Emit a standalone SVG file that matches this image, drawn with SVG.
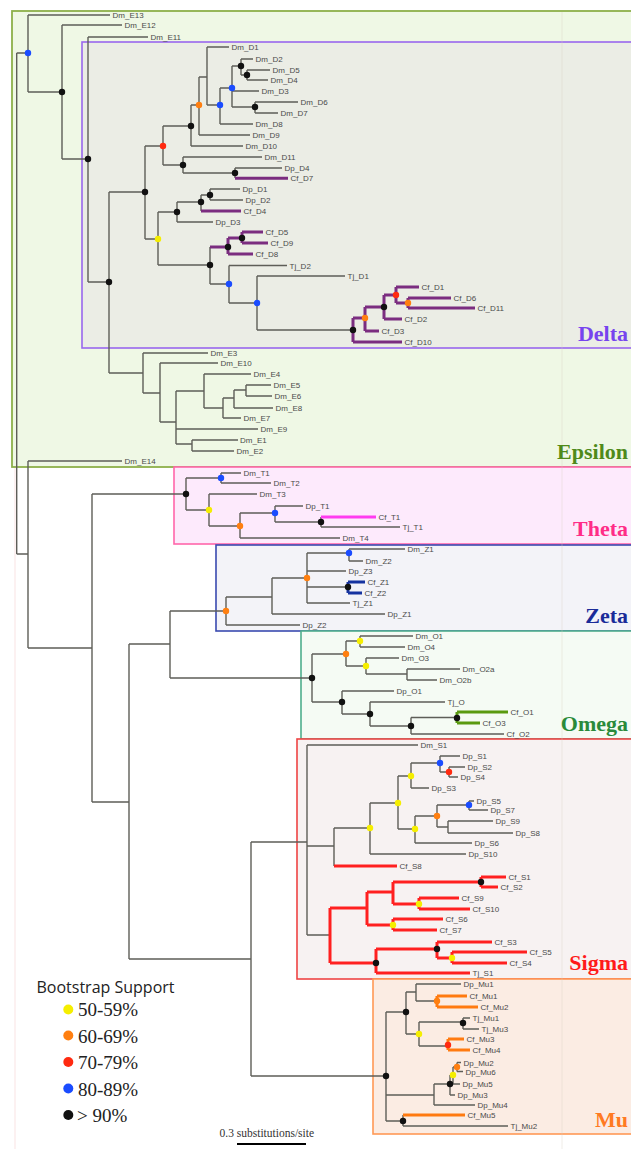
<svg xmlns="http://www.w3.org/2000/svg" width="631" height="1149" viewBox="0 0 631 1149">
<style>
.br{fill:none;stroke:#5e5e58;stroke-width:1.4}
.th{fill:none;stroke-width:3}
.pu{stroke:#7b2d80}.mg{stroke:#ff3cf0}.zb{stroke:#1633a0}.og{stroke:#5a9a10}.rd{stroke:#ff2020}.or{stroke:#ff7a10}
.lf{font-family:"Liberation Sans",Arial,sans-serif;font-size:8px;fill:#4a4a4a}
.cl{font-family:"Liberation Serif","Times New Roman",serif;font-size:22px;font-weight:bold;text-anchor:end}
.ly{fill:#f5ee00}.lo{fill:#ff7f10}.lr{fill:#ff2a10}.lb{fill:#1a4cff}.lk{fill:#111}
#bootstrap-nodes circle{r:3.2px}
.lg{font-family:"Liberation Serif","Times New Roman",serif;font-size:19px;fill:#222}
</style>
<rect width="631" height="1149" fill="#fff"/>
<g id="clade-boxes">
<g id="box-epsilon"><rect x="12" y="11" width="630" height="456" fill="#eff8e5" stroke="#8db04a" stroke-width="1.8"/></g>
<g id="box-delta"><rect x="82" y="42" width="560" height="306" fill="#ebede5" stroke="#9966ee" stroke-width="1.6"/></g>
<g id="box-theta"><rect x="174" y="467" width="470" height="77" fill="#fdeafc" stroke="#ff66aa" stroke-width="1.6"/></g>
<g id="box-zeta"><rect x="216" y="545" width="430" height="86" fill="#f3f3f8" stroke="#3a4ab0" stroke-width="1.6"/></g>
<g id="box-omega"><rect x="301" y="631" width="345" height="108" fill="#f5fbf4" stroke="#4fae8c" stroke-width="1.6"/></g>
<g id="box-sigma"><rect x="297" y="739" width="350" height="240" fill="#f7f2f2" stroke="#ee4444" stroke-width="1.6"/></g>
<g id="box-mu"><rect x="373" y="979" width="275" height="155" fill="#fbece3" stroke="#ff9955" stroke-width="1.6"/></g>
<line x1="562" y1="12" x2="562" y2="1149" stroke="#d8cfc0" stroke-width="1" opacity="0.35"/>
<line x1="15" y1="468" x2="15" y2="1149" stroke="#f6caca" stroke-width="1" opacity="0.5"/>
</g>
<g id="clade-labels">
<text class="cl" x="628" y="459" fill="#4f8a1a">Epsilon</text>
<text class="cl" x="628" y="341" fill="#7744ee">Delta</text>
<text class="cl" x="628" y="536" fill="#ff2d87">Theta</text>
<text class="cl" x="628" y="623" fill="#1a2b99">Zeta</text>
<text class="cl" x="628" y="731" fill="#2a8a3a">Omega</text>
<text class="cl" x="628" y="970" fill="#ff1a1a">Sigma</text>
<text class="cl" x="628" y="1127" fill="#ff7a22">Mu</text>
</g>
<g id="connectors">
<path class="br" d="M16.7 53V554M16.7 53H28M16.7 554H28
M28 15V92M28 15H110M28 92H62
M62 25V159M62 25H122M62 159H88
M88 37V282M88 37H148M88 282H109
M109 192V373M109 192H145M109 373H143
M145 146V239M145 146H163M145 239H158
M163 126V165M163 126H191M163 165H183
M191 105V146M191 105H199M191 146H243
M199 77V135M199 77H207M199 135H250
M207 47V105M207 47H229M207 105H220
M220 88V124M220 88H232M220 124H253
M232 66V107M232 66H241M232 91H259M232 107H255
M241 59V75M241 59H253M241 75H247
M247 70V80M247 70H270M247 80H268
M255 102V113M255 102H298M255 113H278
M183 157V173M183 157H262M183 173H235
M235 168V178M235 168H282
M158 212V265M158 212H177M158 265H210
M177 202V222M177 202H201M177 222H213
M201 195V211M201 195H210
M210 189V200M210 189H240M210 200H243
M210 247V284M210 284H229
M229 265.5V303M229 265.5H287M229 303H257
M257 276V330M257 276H345M257 330H353
M143 353V393M143 353H208M143 393H160
M160 363V422M160 363H218M160 422H176
M176 391V444M176 391H204M176 429H258M176 444H192
M204 374V408M204 374H251M204 408H223
M223 398V418M223 398H234M223 418H241
M234 390V408M234 390H246M234 408H273
M246 385V396M246 385H271M246 396H272
M192 440V451M192 440H238M192 451H234
M28 461V648M28 461H122M28 648H92
M92 494V802M92 494H186M92 802H129
M186 478V510M186 478H221M186 510H209
M221 473V483M221 473H241M221 483H271
M209 494V526M209 494H257M209 526H240
M240 513V538M240 513H275M240 538H340
M275 506V522M275 506H303M275 522H321
M321 517V527M321 527H400
M129 644V959M129 644H170M129 959H251
M170 611V678M170 611H226M170 678H312
M226 597V625M226 597H272M226 625H300
M272 578V614M272 578H307M272 614H385
M307 553V603M307 553H349M307 571H346M307 587H348M307 603H350
M349 549V561M349 549H405M349 561H363
M312 654V702M312 654H346M312 702H342
M346 641V666M346 641H360M346 666H366
M360 636V647M360 636H413M360 647H405
M366 658V674M366 658H399M366 674H407
M407 669V680M407 669H460M407 680H437
M342 691V714M342 691H394M342 714H370
M370 702V726M370 702H445M370 726H411
M411 717.5V734M411 717.5H457M411 734H504
M251 842V1076M251 842H307M251 1076H386
M307 745V935M307 745H418M307 846H334M307 935H330
M334 828V866M334 828H370
M370 803V854M370 803H398M370 854H466
M398 776V829M398 776H411M398 829H415
M411 763V788M411 763H440M411 788H429
M440 756V772M440 756H460M440 772H449
M449 767V777M449 767H465M449 777H458
M415 816V843M415 816H437M415 843H472
M437 805V827M437 805H469M437 827H448
M469 801V810M469 801H474M469 810H488
M448 821V833M448 821H493M448 833H513
M386 1012V1121M386 1012H406M386 1095H434M386 1121H403
M406 992V1034M406 992H416M406 1034H419
M416 984V1001M416 984H461M416 1001H437
M419 1022V1046M419 1022H463M419 1046H448
M463 1018V1029M463 1018H470M463 1029H479
M434 1084V1105M434 1084H450M434 1105H475
M450 1075V1095M450 1075H453M450 1095H455
M453 1067V1084M453 1067H457M453 1084H460
M457 1062.5V1071.5M457 1062.5H461M457 1071.5H463
M403 1115V1126M403 1126H508"/>
<path class="th pu" d="M235 178.3H288M201 211H241M210 247H228M228 238V254M228 238H242M228 254H253M242 232V243M242 232H263M242 243H268
M353 318V342M353 318H365M353 342H402M365 307V331M365 307H384M365 331H379M384 295V319M384 295H396M384 319H402M396 287V303M396 287H419M396 303H408M408 298V308M408 298H451M408 308H475"/>
<path class="th mg" d="M321 517H376"/>
<path class="th zb" d="M348 582V593M348 582H365M348 593H362"/>
<path class="th og" d="M457 712V723M457 712H508M457 723H480"/>
<path class="th rd" d="M334 866H397
M330 908V963M330 908H367M330 963H376M367 892V925M367 892H393M367 925H393M393 882V904M393 882H481M393 904H419M481 877V887M481 877H506M481 887H498M419 898V909M419 898H459M419 909H470M393 919V930M393 919H443M393 930H437M376 949V973M376 949H437M376 973H470M437 942V958M437 942H492M437 958H452M452 952V963M452 952H527M452 963H507"/>
<path class="th or" d="M437 996V1007M437 996H467M437 1007H478M448 1039V1050M448 1039H464M448 1050H470M403 1115H465"/>
</g>
<g id="bootstrap-nodes">
<circle class="lb" cx="28" cy="53" r="3.2"/><circle class="lk" cx="62" cy="92" r="3.2"/><circle class="lk" cx="88" cy="159" r="3.2"/><circle class="lk" cx="109" cy="282" r="3.2"/>
<circle class="lk" cx="145" cy="192" r="3.2"/><circle class="lr" cx="163" cy="146" r="3.2"/><circle class="lk" cx="191" cy="126" r="3.2"/><circle class="lo" cx="199" cy="105" r="3.2"/>
<circle class="lb" cx="220" cy="105" r="3.2"/><circle class="lb" cx="232" cy="88" r="3.2"/><circle class="lk" cx="241" cy="66" r="3.2"/><circle class="lk" cx="247" cy="75" r="3.2"/>
<circle class="lk" cx="255" cy="107" r="3.2"/><circle class="lk" cx="183" cy="165" r="3.2"/><circle class="lk" cx="235" cy="173" r="3.2"/><circle class="ly" cx="158" cy="239" r="3.2"/>
<circle class="lk" cx="177" cy="212" r="3.2"/><circle class="lk" cx="201" cy="202" r="3.2"/><circle class="lk" cx="210" cy="195" r="3.2"/><circle class="lk" cx="210" cy="265" r="3.2"/>
<circle class="lk" cx="228" cy="247" r="3.2"/><circle class="lk" cx="242" cy="238" r="3.2"/><circle class="lb" cx="229" cy="284" r="3.2"/><circle class="lb" cx="257" cy="303" r="3.2"/>
<circle class="lk" cx="353" cy="330" r="3.2"/><circle class="lo" cx="365" cy="318" r="3.2"/><circle class="lk" cx="384" cy="307" r="3.2"/><circle class="lr" cx="396" cy="295" r="3.2"/><circle class="lo" cx="408" cy="303" r="3.2"/>
<circle class="lk" cx="186" cy="494" r="3.2"/><circle class="lb" cx="221" cy="478" r="3.2"/><circle class="ly" cx="209" cy="510" r="3.2"/><circle class="lo" cx="240" cy="526" r="3.2"/><circle class="lb" cx="275" cy="513" r="3.2"/><circle class="lk" cx="321" cy="522" r="3.2"/>
<circle class="lo" cx="226" cy="611" r="3.2"/><circle class="lo" cx="307" cy="578" r="3.2"/><circle class="lb" cx="349" cy="553" r="3.2"/><circle class="lk" cx="348" cy="587" r="3.2"/>
<circle class="lk" cx="312" cy="678" r="3.2"/><circle class="lo" cx="346" cy="654" r="3.2"/><circle class="ly" cx="360" cy="641" r="3.2"/><circle class="ly" cx="366" cy="666" r="3.2"/><circle class="lk" cx="342" cy="702" r="3.2"/><circle class="lk" cx="370" cy="714" r="3.2"/><circle class="lk" cx="411" cy="726" r="3.2"/><circle class="lk" cx="457" cy="718" r="3.2"/>
<circle class="ly" cx="370" cy="828" r="3.2"/><circle class="ly" cx="398" cy="803" r="3.2"/><circle class="ly" cx="411" cy="776" r="3.2"/><circle class="lb" cx="440" cy="763" r="3.2"/><circle class="lr" cx="449" cy="772" r="3.2"/><circle class="ly" cx="415" cy="829" r="3.2"/><circle class="lo" cx="437" cy="816" r="3.2"/><circle class="lb" cx="469" cy="805" r="3.2"/>
<circle class="lk" cx="481" cy="882" r="3.2"/><circle class="ly" cx="419" cy="904" r="3.2"/><circle class="ly" cx="393" cy="925" r="3.2"/><circle class="lk" cx="376" cy="963" r="3.2"/><circle class="lk" cx="437" cy="949" r="3.2"/><circle class="ly" cx="452" cy="958" r="3.2"/>
<circle class="lk" cx="386" cy="1076" r="3.2"/><circle class="lk" cx="406" cy="1012" r="3.2"/><circle class="lo" cx="437" cy="1001" r="3.2"/><circle class="ly" cx="419" cy="1034" r="3.2"/><circle class="lk" cx="463" cy="1023" r="3.2"/><circle class="lr" cx="448" cy="1045" r="3.2"/>
<circle class="lk" cx="450" cy="1084" r="3.2"/><circle class="ly" cx="453" cy="1075" r="3.2"/><circle class="lo" cx="457" cy="1067" r="3.2"/><circle class="lk" cx="403" cy="1121" r="3.2"/>
</g>
<g id="leaf-labels" class="lf">
<text x="112.5" y="18">Dm_E13</text><text x="124.5" y="28">Dm_E12</text><text x="150.5" y="40">Dm_E11</text>
<text x="231.5" y="50">Dm_D1</text><text x="255.5" y="62">Dm_D2</text><text x="272.5" y="73">Dm_D5</text><text x="270.5" y="83">Dm_D4</text><text x="261.5" y="94">Dm_D3</text>
<text x="300.5" y="105">Dm_D6</text><text x="280.5" y="116">Dm_D7</text><text x="255.5" y="127">Dm_D8</text><text x="252.5" y="138">Dm_D9</text><text x="245.5" y="149">Dm_D10</text>
<text x="264.5" y="160">Dm_D11</text><text x="284.5" y="171">Dp_D4</text><text x="290.5" y="181.3">Cf_D7</text>
<text x="242.5" y="192">Dp_D1</text><text x="245.5" y="203">Dp_D2</text><text x="243.5" y="214">Cf_D4</text><text x="215.5" y="225">Dp_D3</text>
<text x="265.5" y="235">Cf_D5</text><text x="270.5" y="246">Cf_D9</text><text x="255.5" y="257">Cf_D8</text><text x="289.5" y="268.5">Tj_D2</text><text x="347.5" y="279">Tj_D1</text>
<text x="421.5" y="290">Cf_D1</text><text x="453.5" y="301">Cf_D6</text><text x="477.5" y="311">Cf_D11</text><text x="404.5" y="322">Cf_D2</text><text x="381.5" y="334">Cf_D3</text><text x="404.5" y="345">Cf_D10</text>
<text x="210.5" y="356">Dm_E3</text><text x="220.5" y="366">Dm_E10</text><text x="253.5" y="377">Dm_E4</text><text x="273.5" y="388">Dm_E5</text><text x="274.5" y="399">Dm_E6</text>
<text x="275.5" y="411">Dm_E8</text><text x="243.5" y="421">Dm_E7</text><text x="260.5" y="432">Dm_E9</text><text x="240" y="443">Dm_E1</text><text x="236.5" y="454">Dm_E2</text>
<text x="124.5" y="464">Dm_E14</text>
<text x="243.5" y="476">Dm_T1</text><text x="273.5" y="486">Dm_T2</text><text x="259.5" y="497">Dm_T3</text><text x="305.5" y="509">Dp_T1</text><text x="378.5" y="520">Cf_T1</text><text x="402.5" y="530">Tj_T1</text><text x="342.5" y="541">Dm_T4</text>
<text x="407.5" y="552">Dm_Z1</text><text x="365.5" y="564">Dm_Z2</text><text x="348.5" y="574">Dp_Z3</text><text x="367.5" y="585">Cf_Z1</text><text x="364.5" y="596">Cf_Z2</text><text x="352.5" y="606">Tj_Z1</text><text x="387.5" y="617">Dp_Z1</text><text x="302.5" y="628">Dp_Z2</text>
<text x="415.5" y="639">Dm_O1</text><text x="407.5" y="650">Dm_O4</text><text x="401.5" y="661">Dm_O3</text><text x="462.5" y="672">Dm_O2a</text><text x="439.5" y="683">Dm_O2b</text>
<text x="396.5" y="694">Dp_O1</text><text x="447.5" y="705">Tj_O</text><text x="510.5" y="715">Cf_O1</text><text x="482.5" y="726">Cf_O3</text><text x="506.5" y="737">Cf_O2</text>
<text x="420.5" y="748">Dm_S1</text><text x="462.5" y="759">Dp_S1</text><text x="467.5" y="770">Dp_S2</text><text x="460.5" y="780">Dp_S4</text><text x="431.5" y="791">Dp_S3</text>
<text x="476.5" y="804">Dp_S5</text><text x="490.5" y="813">Dp_S7</text><text x="495.5" y="824">Dp_S9</text><text x="515.5" y="836">Dp_S8</text><text x="474.5" y="846">Dp_S6</text><text x="468.5" y="857">Dp_S10</text>
<text x="399.5" y="869">Cf_S8</text><text x="508.5" y="880">Cf_S1</text><text x="500.5" y="890">Cf_S2</text><text x="461.5" y="901">Cf_S9</text><text x="472.5" y="912">Cf_S10</text>
<text x="445.5" y="922">Cf_S6</text><text x="439.5" y="933">Cf_S7</text><text x="494.5" y="945">Cf_S3</text><text x="529.5" y="955">Cf_S5</text><text x="509.5" y="966">Cf_S4</text><text x="472.5" y="976">Tj_S1</text>
<text x="463.5" y="987">Dp_Mu1</text><text x="469.5" y="999">Cf_Mu1</text><text x="480.5" y="1010">Cf_Mu2</text><text x="472.5" y="1021">Tj_Mu1</text><text x="481.5" y="1032">Tj_Mu3</text>
<text x="466.5" y="1042">Cf_Mu3</text><text x="472.5" y="1053">Cf_Mu4</text><text x="463.5" y="1065.5">Dp_Mu2</text><text x="465.5" y="1074.5">Dp_Mu6</text><text x="462.5" y="1087">Dp_Mu5</text>
<text x="457.5" y="1098">Dp_Mu3</text><text x="477.5" y="1108">Dp_Mu4</text><text x="467.5" y="1118">Cf_Mu5</text><text x="510.5" y="1129">Tj_Mu2</text>
</g>
<g id="legend">
<text x="36.5" y="993" font-family="'Open Sans',sans-serif" font-size="16" fill="#222">Bootstrap Support</text>
<circle class="ly" cx="68.3" cy="1009.5" r="5"/><text class="lg" x="78" y="1016">50-59%</text>
<circle class="lo" cx="68.3" cy="1035.5" r="5"/><text class="lg" x="78" y="1042.5">60-69%</text>
<circle class="lr" cx="68.3" cy="1062" r="5"/><text class="lg" x="78" y="1069">70-79%</text>
<circle class="lb" cx="68.3" cy="1088.5" r="5"/><text class="lg" x="78" y="1095.5">80-89%</text>
<circle class="lk" cx="68.3" cy="1115" r="5"/><text class="lg" x="77" y="1122">&gt; 90%</text>
</g>
<g id="scale-bar">
<text x="219.5" y="1137" font-family="'Liberation Serif',serif" font-size="11.5" fill="#333">0.3 substitutions/site</text>
<line x1="237" y1="1144" x2="306" y2="1144" stroke="#000" stroke-width="2"/>
</g>
</svg>
